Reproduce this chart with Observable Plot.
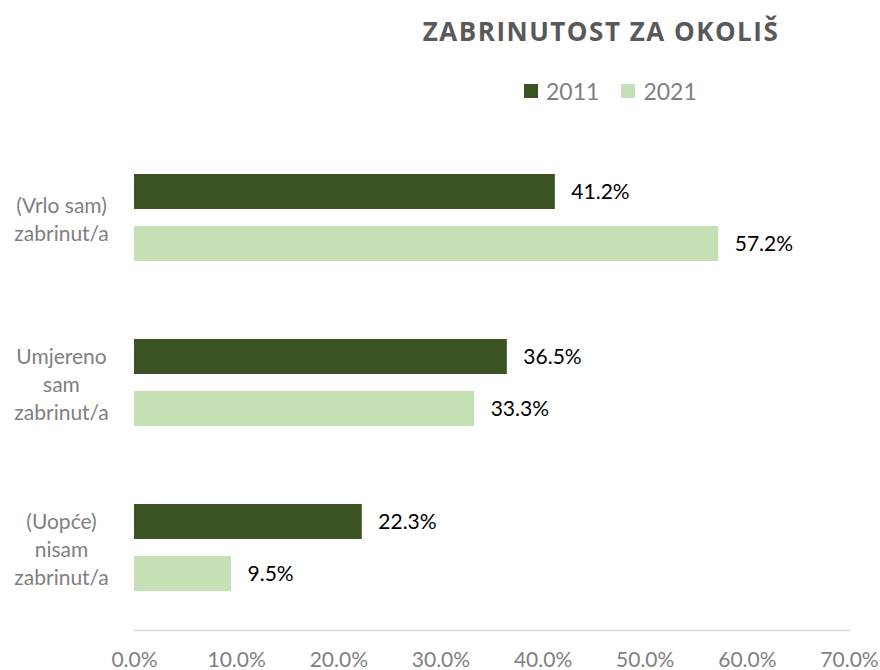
<!DOCTYPE html>
<html>
<head>
<meta charset="utf-8">
<script src="https://cdn.jsdelivr.net/npm/d3@7"></script>
<script src="https://cdn.jsdelivr.net/npm/@observablehq/plot@0.6"></script>
<style>
  body { margin: 0; background: #fff; }
  #wrap { width: 880px; }
  #head { position: relative; height: 135px; }
  #title { position: absolute; left: 601px; top: 13px; transform: translateX(-50%); white-space: nowrap;
           font: bold 26px "Open Sans", sans-serif; color: #595959; letter-spacing: 1.5px; }
  #legend { position: absolute; left: 524px; top: 77px; display: flex; align-items: center;
            font: 23px Lato, sans-serif; color: #7f7f7f; }
  .item { display: flex; align-items: center; margin-right: 22px; }
  .sw { width: 14px; height: 14px; margin-right: 8px; }
</style>
</head>
<body>
<div id="wrap">
  <div id="head">
    <div id="title">ZABRINUTOST ZA OKOLIŠ</div>
    <div id="legend"></div>
  </div>
  <div id="chart"></div>
</div>
<script>
const title = "ZABRINUTOST ZA OKOLIŠ";
const categories = ["(Vrlo sam)\nzabrinut/a", "Umjereno\nsam\nzabrinut/a", "(Uopće)\nnisam\nzabrinut/a"];
const years = ["2011", "2021"];
const values2011 = [41.2, 36.5, 22.3];
const values2021 = [57.2, 33.3, 9.5];
const xTicks = [0, 10, 20, 30, 40, 50, 60, 70];
const colors = ["#3B5323", "#C5E0B4"];

const data = [];
categories.forEach((c, i) => {
  data.push({category: c, year: years[0], value: values2011[i]});
  data.push({category: c, year: years[1], value: values2021[i]});
});

const legend = document.getElementById("legend");
years.forEach((y, i) => {
  const it = document.createElement("div");
  it.className = "item";
  it.innerHTML = `<span class="sw" style="background:${colors[i]}"></span><span>${y}</span>`;
  legend.appendChild(it);
});

const fmt = d => d.toFixed(1) + "%";

const chart = Plot.plot({
  width: 880,
  height: 535,
  marginLeft: 134,
  marginRight: 31,
  marginTop: 0,
  marginBottom: 40,
  style: { fontFamily: "Lato, sans-serif", background: "#fff" },
  x: { domain: [0, 70], ticks: xTicks, tickFormat: fmt, label: null },
  fy: { domain: categories, padding: 0, axis: null, label: null },
  y: { domain: years, paddingInner: 0.327, paddingOuter: 0.75, axis: null, label: null },
  color: { domain: years, range: colors },
  marks: [
    Plot.frame({ anchor: "bottom", facetAnchor: "bottom", stroke: "#d9d9d9", strokeWidth: 1.5 }),
    Plot.barX(data, { x: "value", y: "year", fy: "category", fill: "year" }),
    Plot.text(data, { x: "value", y: "year", fy: "category", text: d => fmt(d.value),
      textAnchor: "start", dx: 16, fontSize: 21, fill: "#000" }),
    Plot.text(categories, { fy: d => d, text: d => d, frameAnchor: "left", dx: -73,
      textAnchor: "middle", lineHeight: 1.33, fontSize: 21, fill: "#7f7f7f" }),
    Plot.axisX({ ticks: xTicks, tickFormat: fmt, tickSize: 0, tickPadding: 22, fontSize: 21,
      fill: "#7f7f7f", label: null })
  ]
});
document.getElementById("chart").appendChild(chart);
</script>
</body>
</html>
